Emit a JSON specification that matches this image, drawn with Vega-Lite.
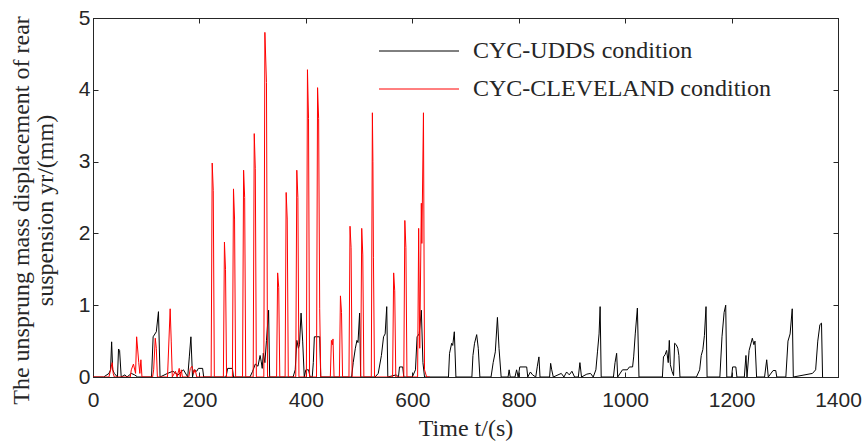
{
  "$schema": "https://vega.github.io/schema/vega-lite/v6.json",
  "width": 745,
  "height": 359,
  "autosize": {"type": "none"},
  "padding": {"left": 93, "top": 18, "right": 28, "bottom": 66},
  "background": "white",
  "config": {
    "view": {"stroke": "#262626", "strokeWidth": 1},
    "font": "Liberation Serif",
    "legend": {
      "orient": "none",
      "legendX": 279,
      "legendY": 21,
      "title": null,
      "symbolType": "M-8,0H8",
      "symbolSize": 100,
      "symbolStrokeWidth": 1,
      "symbolOffset": 35,
      "labelOffset": 42,
      "labelFont": "Liberation Serif",
      "labelFontSize": 24,
      "labelColor": "#262626",
      "labelLimit": 500,
      "rowPadding": 14
    }
  },
  "datasets": {
    "udds": [
      {"t":0,"y":0},{"t":20,"y":0},{"t":30,"y":0.05},{"t":33,"y":0.1},{"t":35,"y":0.49},{"t":37,"y":0.1},{"t":40,"y":0.05},{"t":46,"y":0},{"t":48,"y":0.39},{"t":50,"y":0.37},{"t":53,"y":0},{"t":60,"y":0.03},{"t":64,"y":0},{"t":72,"y":0.05},{"t":78,"y":0.03},{"t":84,"y":0},
      {"t":110,"y":0},{"t":113,"y":0.56},{"t":119,"y":0.63},{"t":123,"y":0.91},{"t":126,"y":0},{"t":140,"y":0.05},{"t":150,"y":0.08},{"t":160,"y":0.03},{"t":170,"y":0.1},{"t":178,"y":0},{"t":181,"y":0.28},{"t":184,"y":0.56},{"t":187,"y":0},{"t":190,"y":0.1},{"t":195,"y":0.08},{"t":198,"y":0.12},{"t":206,"y":0.12},{"t":208,"y":0},
      {"t":250,"y":0},{"t":253,"y":0.12},{"t":262,"y":0.12},{"t":264,"y":0},{"t":295,"y":0},{"t":300,"y":0.08},{"t":305,"y":0.18},{"t":310,"y":0.15},{"t":314,"y":0.3},{"t":316,"y":0.22},{"t":318,"y":0.12},{"t":320,"y":0.33},{"t":323,"y":0.2},{"t":326,"y":0.51},{"t":330,"y":0.93},{"t":332,"y":0},
      {"t":376,"y":0},{"t":380,"y":0.1},{"t":383,"y":0.51},{"t":386,"y":0.4},{"t":388,"y":0.45},{"t":391,"y":0.89},{"t":394,"y":0.5},{"t":397,"y":0},{"t":400,"y":0.1},{"t":405,"y":0.1},{"t":408,"y":0},{"t":412,"y":0},{"t":414,"y":0.2},{"t":416,"y":0.56},{"t":426,"y":0.56},{"t":428,"y":0},
      {"t":486,"y":0},{"t":489,"y":0.2},{"t":493,"y":0.4},{"t":496,"y":0.51},{"t":498,"y":0.48},{"t":501,"y":0.89},{"t":503,"y":0},
      {"t":530,"y":0},{"t":536,"y":0.05},{"t":542,"y":0.3},{"t":546,"y":0.56},{"t":549,"y":0.6},{"t":552,"y":0.98},{"t":554,"y":0},{"t":570,"y":0.03},{"t":574,"y":0},{"t":576,"y":0.14},{"t":582,"y":0.14},{"t":584,"y":0},
      {"t":600,"y":0},{"t":606,"y":0.1},{"t":609,"y":0.56},{"t":613,"y":0.6},{"t":617,"y":0.93},{"t":620,"y":0.2},{"t":623,"y":0},
      {"t":668,"y":0},{"t":670,"y":0.33},{"t":674,"y":0.47},{"t":676,"y":0.44},{"t":679,"y":0.63},{"t":682,"y":0},
      {"t":712,"y":0},{"t":714,"y":0.3},{"t":717,"y":0.47},{"t":721,"y":0.59},{"t":724,"y":0.4},{"t":727,"y":0},
      {"t":748,"y":0},{"t":752,"y":0.2},{"t":756,"y":0.35},{"t":760,"y":0.83},{"t":763,"y":0.4},{"t":767,"y":0},
      {"t":780,"y":0},{"t":782,"y":0.1},{"t":784,"y":0},{"t":793,"y":0},{"t":796,"y":0.1},{"t":799,"y":0},{"t":802,"y":0.14},{"t":815,"y":0.14},{"t":817,"y":0},{"t":822,"y":0.07},{"t":826,"y":0.03},{"t":832,"y":0},{"t":835,"y":0.15},{"t":838,"y":0.28},{"t":840,"y":0},
      {"t":858,"y":0},{"t":860,"y":0.19},{"t":862,"y":0.1},{"t":865,"y":0},{"t":880,"y":0.05},{"t":885,"y":0},{"t":890,"y":0.07},{"t":895,"y":0.03},{"t":900,"y":0.08},{"t":905,"y":0},{"t":912,"y":0},{"t":915,"y":0.2},{"t":918,"y":0},{"t":928,"y":0.04},{"t":935,"y":0.05},{"t":940,"y":0},
      {"t":945,"y":0.1},{"t":948,"y":0.35},{"t":951,"y":0.6},{"t":953,"y":0.98},{"t":955,"y":0},
      {"t":978,"y":0},{"t":981,"y":0.2},{"t":984,"y":0.33},{"t":986,"y":0},{"t":995,"y":0.1},{"t":1004,"y":0.1},{"t":1008,"y":0.14},{"t":1014,"y":0.14},{"t":1016,"y":0.28},{"t":1019,"y":0.6},{"t":1023,"y":0.96},{"t":1026,"y":0},
      {"t":1070,"y":0},{"t":1072,"y":0.28},{"t":1075,"y":0.31},{"t":1078,"y":0.37},{"t":1081,"y":0.2},{"t":1083,"y":0.51},{"t":1085,"y":0.17},{"t":1088,"y":0.08},{"t":1091,"y":0.02},{"t":1093,"y":0.47},{"t":1096,"y":0.45},{"t":1099,"y":0.4},{"t":1101,"y":0.3},{"t":1103,"y":0},
      {"t":1134,"y":0},{"t":1140,"y":0.1},{"t":1143,"y":0.3},{"t":1146,"y":0.38},{"t":1149,"y":0.58},{"t":1152,"y":0.98},{"t":1154,"y":0},
      {"t":1178,"y":0},{"t":1182,"y":0.56},{"t":1186,"y":0.9},{"t":1189,"y":1.0},{"t":1191,"y":0},{"t":1200,"y":0},{"t":1202,"y":0.14},{"t":1208,"y":0.14},{"t":1210,"y":0},
      {"t":1224,"y":0},{"t":1227,"y":0.3},{"t":1229,"y":0},{"t":1233,"y":0.37},{"t":1239,"y":0.54},{"t":1242,"y":0.45},{"t":1244,"y":0.5},{"t":1247,"y":0},
      {"t":1262,"y":0},{"t":1266,"y":0.24},{"t":1269,"y":0},{"t":1278,"y":0.09},{"t":1283,"y":0.09},{"t":1285,"y":0},
      {"t":1302,"y":0},{"t":1306,"y":0.5},{"t":1310,"y":0.6},{"t":1314,"y":0.95},{"t":1316,"y":0},
      {"t":1352,"y":0.05},{"t":1358,"y":0.1},{"t":1362,"y":0.5},{"t":1366,"y":0.73},{"t":1369,"y":0.75},{"t":1371,"y":0}
    ],
    "cleveland": [
      {"t":0,"y":0},{"t":30,"y":0},{"t":36,"y":0.2},{"t":38,"y":0.05},{"t":40,"y":0},{"t":70,"y":0},{"t":72,"y":0.1},{"t":76,"y":0.18},{"t":80,"y":0.05},{"t":82,"y":0.56},{"t":86,"y":0.2},{"t":88,"y":0.05},{"t":90,"y":0.24},{"t":92,"y":0},
      {"t":112,"y":0},{"t":114,"y":0.1},{"t":117,"y":0.54},{"t":119,"y":0.4},{"t":121,"y":0},{"t":140,"y":0},{"t":145,"y":0.95},{"t":147,"y":0.5},{"t":149,"y":0},{"t":155,"y":0.08},{"t":158,"y":0},{"t":162,"y":0.12},{"t":164,"y":0},{"t":166,"y":0.1},{"t":168,"y":0},
      {"t":180,"y":0},{"t":183,"y":0.12},{"t":186,"y":0.15},{"t":189,"y":0.05},{"t":192,"y":0.1},{"t":195,"y":0},
      {"t":222,"y":0},{"t":224,"y":2.98},{"t":226,"y":2.6},{"t":228,"y":0},
      {"t":245,"y":0},{"t":247,"y":1.88},{"t":249,"y":1.5},{"t":251,"y":0},
      {"t":262,"y":0},{"t":264,"y":2.62},{"t":266,"y":2.2},{"t":268,"y":0},
      {"t":281,"y":0},{"t":283,"y":2.88},{"t":285,"y":2.5},{"t":287,"y":0},
      {"t":301,"y":0},{"t":303,"y":3.39},{"t":305,"y":2.9},{"t":307,"y":0},
      {"t":321,"y":0},{"t":323,"y":4.8},{"t":326,"y":4.1},{"t":328,"y":0},
      {"t":345,"y":0},{"t":347,"y":1.45},{"t":349,"y":1.25},{"t":351,"y":0},
      {"t":361,"y":0},{"t":363,"y":2.57},{"t":365,"y":2.2},{"t":367,"y":0},
      {"t":381,"y":0},{"t":383,"y":2.88},{"t":385,"y":2.5},{"t":387,"y":0},
      {"t":401,"y":0},{"t":403,"y":4.28},{"t":405,"y":3.6},{"t":407,"y":0},
      {"t":420,"y":0},{"t":422,"y":4.03},{"t":424,"y":3.6},{"t":426,"y":0.95},{"t":428,"y":0},
      {"t":446,"y":0},{"t":448,"y":0.51},{"t":450,"y":0.45},{"t":451,"y":0.53},{"t":453,"y":0},
      {"t":463,"y":0},{"t":465,"y":1.13},{"t":467,"y":0.9},{"t":469,"y":0},
      {"t":481,"y":0},{"t":483,"y":2.1},{"t":485,"y":1.8},{"t":487,"y":0},
      {"t":503,"y":0},{"t":505,"y":2.07},{"t":507,"y":1.7},{"t":509,"y":0},
      {"t":523,"y":0},{"t":525,"y":3.68},{"t":526,"y":3.0},{"t":527,"y":1.66},{"t":529,"y":0},
      {"t":563,"y":0},{"t":565,"y":1.45},{"t":567,"y":1.2},{"t":569,"y":0},
      {"t":584,"y":0},{"t":586,"y":2.18},{"t":588,"y":1.8},{"t":590,"y":0},
      {"t":610,"y":0},{"t":612,"y":2.07},{"t":614,"y":0.4},{"t":617,"y":2.42},{"t":618,"y":1.86},{"t":621,"y":3.68},{"t":623,"y":0.1},{"t":627,"y":0},{"t":633,"y":0}
    ]
  },
  "layer": [
    {
      "data": {"name": "udds"},
      "mark": {"type": "line", "strokeWidth": 1, "clip": true},
      "encoding": {
        "x": {
          "field": "t", "type": "quantitative",
          "scale": {"domain": [0, 1400], "nice": false},
          "axis": {
            "orient": "bottom",
            "values": [0, 200, 400, 600, 800, 1000, 1200, 1400],
            "format": "d",
            "grid": false,
            "tickSize": -5,
            "tickColor": "#262626",
            "domainColor": "#262626",
            "labelFont": "Liberation Sans",
            "labelFontSize": 21,
            "labelColor": "#262626",
            "labelPadding": 17,
            "labelFlush": false,
            "title": "Time t/(s)",
            "titleFont": "Liberation Serif",
            "titleFontSize": 24,
            "titleFontWeight": "normal",
            "titleColor": "#262626",
            "titlePadding": 6
          }
        },
        "y": {
          "field": "y", "type": "quantitative",
          "scale": {"domain": [0, 5], "nice": false},
          "axis": {
            "orient": "left",
            "values": [0, 1, 2, 3, 4, 5],
            "format": "d",
            "grid": false,
            "tickSize": -5,
            "tickColor": "#262626",
            "domainColor": "#262626",
            "labelFont": "Liberation Sans",
            "labelFontSize": 21,
            "labelColor": "#262626",
            "labelPadding": 8,
            "labelFlush": false,
            "title": ["The unsprung mass displacement of rear", "suspension yr/(mm)"],
            "titleFont": "Liberation Serif",
            "titleFontSize": 24,
            "titleFontWeight": "normal",
            "titleColor": "#262626",
            "titleLineHeight": 24,
            "titleY": 192,
            "titlePadding": 21
          }
        },
        "color": {
          "datum": "CYC-UDDS condition",
          "type": "nominal",
          "scale": {"domain": ["CYC-UDDS condition", "CYC-CLEVELAND condition"], "range": ["#000000", "#ff0000"]}
        }
      }
    },
    {
      "data": {"name": "cleveland"},
      "mark": {"type": "line", "strokeWidth": 1, "clip": true},
      "encoding": {
        "x": {
          "field": "t", "type": "quantitative",
          "axis": {"orient": "top", "values": [0, 200, 400, 600, 800, 1000, 1200, 1400], "grid": false, "labels": false, "title": null, "tickSize": -5, "tickColor": "#262626", "domainColor": "#262626"}
        },
        "y": {
          "field": "y", "type": "quantitative",
          "axis": {"orient": "right", "values": [0, 1, 2, 3, 4, 5], "grid": false, "labels": false, "title": null, "tickSize": -5, "tickColor": "#262626", "domainColor": "#262626"}
        },
        "color": {
          "datum": "CYC-CLEVELAND condition",
          "type": "nominal"
        }
      }
    }
  ],
  "resolve": {"axis": {"x": "independent", "y": "independent"}}
}
